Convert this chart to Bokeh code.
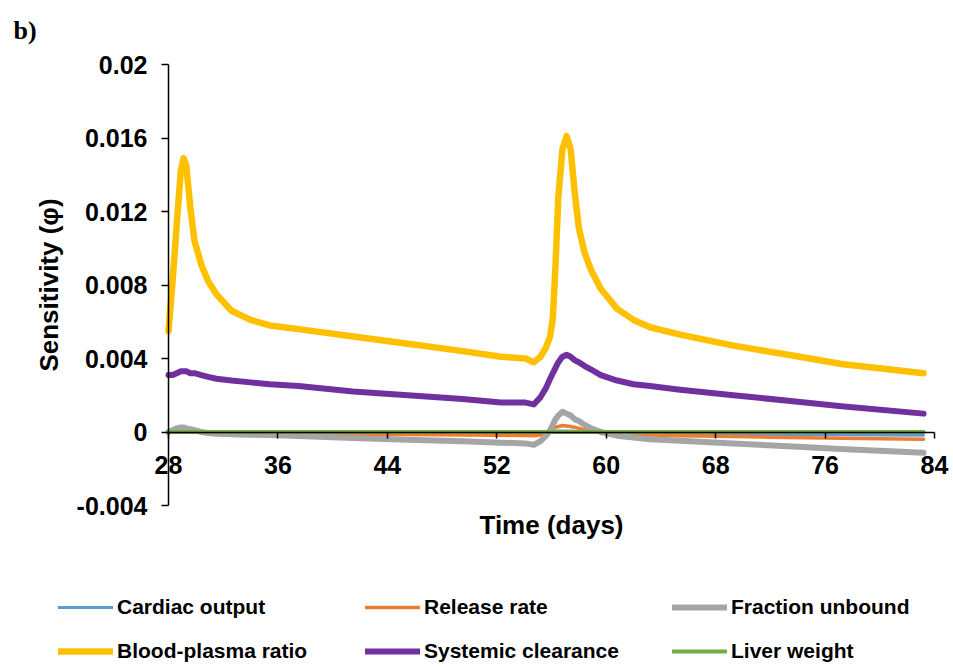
from bokeh.plotting import figure
from bokeh.models import (LinearAxis, FixedTicker, CustomJSTickFormatter, Range1d,
                          Legend, LegendItem, Label)
from bokeh.embed import file_html
from bokeh.resources import INLINE

# Time after start (days)
days = [28.0, 28.3, 28.6, 28.9, 29.1, 29.3, 29.6, 29.9, 30.4, 30.9, 31.5, 32.6, 34.0,
        35.4, 37.5, 41.5, 45.5, 49.5, 52.3, 54.1, 54.7, 55.2, 55.6, 55.9, 56.1, 56.3,
        56.5, 56.8, 57.1, 57.4, 57.7, 58.0, 58.4, 58.9, 59.6, 60.8, 62.0, 63.2, 65.4,
        69.3, 73.3, 77.2, 83.2]

# Sensitivity coefficients (phi) per parameter
cardiac_output = [0.0, 0.0, 0.0, 0.0, 0.0, 0.0, 0.0, 0.0, 0.0, 0.0, -0.00001, -0.00001,
                  -0.00002, -0.00002, -0.00002, -0.00003, -0.00003, -0.00004, -0.00004,
                  -0.00004, -0.00005, -0.00004, -0.00002, 0.0, 0.00002, 0.00004, 0.00005,
                  0.00006, 0.00006, 0.00005, 0.00004, 0.00003, 0.00002, 0.0, -0.00002,
                  -0.00004, -0.00006, -0.00007, -0.00009, -0.00011, -0.00013, -0.00015,
                  -0.00018]
release_rate = [0.0, 0.0, 0.0, 0.0, 0.0, 0.0, 0.0, 0.0, -0.00001, -0.00002, -0.00003,
                -0.00005, -0.00006, -0.00007, -0.00009, -0.00012, -0.00014, -0.00016,
                -0.00018, -0.00019, -0.0002, -0.00015, -0.00005, 0.00005, 0.00015,
                0.00025, 0.0003, 0.00035, 0.00033, 0.0003, 0.00025, 0.0002, 0.00012,
                0.00005, -0.00003, -0.0001, -0.00014, -0.00017, -0.0002, -0.00025,
                -0.0003, -0.00034, -0.0004]
fraction_unbound = [0.0, 0.0001, 0.0002, 0.00025, 0.00025, 0.0002, 0.00015, 0.0001, 0.0,
                    -0.00005, -0.0001, -0.00012, -0.00015, -0.00017, -0.00022, -0.00033,
                    -0.00042, -0.0005, -0.00058, -0.00062, -0.0007, -0.0005, -0.0002,
                    0.0001, 0.0004, 0.0007, 0.0009, 0.0011, 0.001, 0.0009, 0.0007, 0.0006,
                    0.0004, 0.0002, 0.0, -0.0002, -0.0003, -0.0004, -0.00048, -0.00063,
                    -0.00078, -0.00092, -0.00113]
blood_plasma_ratio = [0.0055, 0.0082, 0.0113, 0.0142, 0.0149, 0.0145, 0.0122, 0.0104,
                      0.0091, 0.0082, 0.0075, 0.0066, 0.0061, 0.0058, 0.0056, 0.0052,
                      0.0048, 0.0044, 0.0041, 0.0040, 0.0038, 0.0041, 0.0046, 0.0052,
                      0.0062, 0.0092, 0.0128, 0.0154, 0.0161, 0.0154, 0.0130, 0.0111,
                      0.0098, 0.0088, 0.0078, 0.0067, 0.0061, 0.0057, 0.0053, 0.0047,
                      0.0042, 0.0037, 0.0032]
systemic_clearance = [0.0031, 0.0031, 0.0032, 0.0033, 0.0033, 0.0033, 0.0032, 0.0032,
                      0.0031, 0.0030, 0.0029, 0.0028, 0.0027, 0.0026, 0.0025, 0.0022,
                      0.0020, 0.0018, 0.0016, 0.0016, 0.0015, 0.0019, 0.0024, 0.0029,
                      0.0032, 0.0035, 0.0038, 0.0041, 0.0042, 0.0041, 0.0039, 0.0038,
                      0.0036, 0.0034, 0.0031, 0.0028, 0.0026, 0.0025, 0.0023, 0.0020,
                      0.0017, 0.0014, 0.0010]
liver_weight = [0.0] * len(days)

series_labels = ["Cardiac output", "Release rate", "Fraction unbound",
                 "Blood-plasma ratio", "Systemic clearance", "Liver weight"]
series_colors = ["#5B9BD5", "#ED7D31", "#A5A5A5", "#FFC000", "#7030A0", "#70AD47"]
series_widths = [3, 3.5, 6, 6.5, 6, 4]

x_ticks = [28, 36, 44, 52, 60, 68, 76, 84]
y_ticks = [-0.004, 0, 0.004, 0.008, 0.012, 0.016, 0.02]
x_lo, x_hi = 28, 84
y_lo, y_hi = -0.004, 0.02

FONT = "Liberation Sans"
W, H = 953, 668
# plot box inside the canvas (pixels): left, right, top, bottom
BOX_L, BOX_R, BOX_T, BOX_B = 168, 934, 64, 505

# The frame covers the whole canvas; axes are pinned at x=28 and y=0 and
# bounded to the data box, so labels and legend can sit around it.
kx = (x_hi - x_lo) / (BOX_R - BOX_L)
ky = (y_hi - y_lo) / (BOX_B - BOX_T)
x_range = Range1d(x_lo - BOX_L * kx, x_hi + (W - BOX_R) * kx)
y_range = Range1d(y_lo - (H - BOX_B) * ky, y_hi + BOX_T * ky)

p = figure(width=W, height=H, output_backend="svg", toolbar_location=None,
           x_range=x_range, y_range=y_range, x_axis_type=None, y_axis_type=None,
           min_border=0)
p.outline_line_color = None
p.xgrid.visible = False
p.ygrid.visible = False

yaxis = LinearAxis(
    ticker=FixedTicker(ticks=y_ticks), fixed_location=x_lo, bounds=(y_lo, y_hi),
    formatter=CustomJSTickFormatter(code="return String(parseFloat(tick.toFixed(3)));"),
    axis_label="Sensitivity (\u03c6)",
    axis_label_text_font=FONT, axis_label_text_font_style="bold",
    axis_label_text_font_size="26px", axis_label_text_color="black",
    axis_label_standoff=10,
    major_label_text_font=FONT, major_label_text_font_style="bold",
    major_label_text_font_size="25px", major_label_text_color="black",
    major_label_standoff=14,
    major_tick_out=7, major_tick_in=0, minor_tick_line_color=None,
    axis_line_width=1.5, major_tick_line_width=1.5,
    axis_line_color="black", major_tick_line_color="black")
p.add_layout(yaxis, "left")

xaxis = LinearAxis(
    ticker=FixedTicker(ticks=x_ticks), fixed_location=0, bounds=(x_lo, x_hi),
    axis_label="Time (days)",
    axis_label_text_font=FONT, axis_label_text_font_style="bold",
    axis_label_text_font_size="26px", axis_label_text_color="black",
    axis_label_standoff=32,
    major_label_text_font=FONT, major_label_text_font_style="bold",
    major_label_text_font_size="25px", major_label_text_color="black",
    major_label_standoff=18,
    major_tick_out=6, major_tick_in=0, minor_tick_line_color=None,
    axis_line_width=1.5, major_tick_line_width=1.5,
    axis_line_color="black", major_tick_line_color="black")
p.add_layout(xaxis, "below")

p.add_layout(Label(x=13, y=H - 30, x_units="screen", y_units="screen", text="b)",
                   text_font="Liberation Serif", text_font_style="bold",
                   text_font_size="26px", text_color="black",
                   text_baseline="alphabetic"))

series = [cardiac_output, release_rate, fraction_unbound,
          blood_plasma_ratio, systemic_clearance, liver_weight]
renderers = []
for vals, color, lw in zip(series, series_colors, series_widths):
    r = p.line(days, vals, line_color=color, line_width=lw,
               line_cap="round", line_join="round")
    renderers.append(r)

# three legend columns, two rows each
col_x = [58, 365, 672]
for c in range(3):
    items = [LegendItem(label=series_labels[c], renderers=[renderers[c]]),
             LegendItem(label=series_labels[c + 3], renderers=[renderers[c + 3]])]
    leg = Legend(items=items, location=(col_x[c], 5), orientation="vertical",
                 padding=0, margin=0, spacing=20, glyph_width=55, glyph_height=20,
                 label_height=20, label_standoff=4, border_line_color=None,
                 background_fill_alpha=0, label_text_font=FONT,
                 label_text_font_style="bold", label_text_font_size="21px",
                 label_text_color="black")
    p.add_layout(leg, "center")

open("out.html", "w").write(file_html(p, INLINE))
